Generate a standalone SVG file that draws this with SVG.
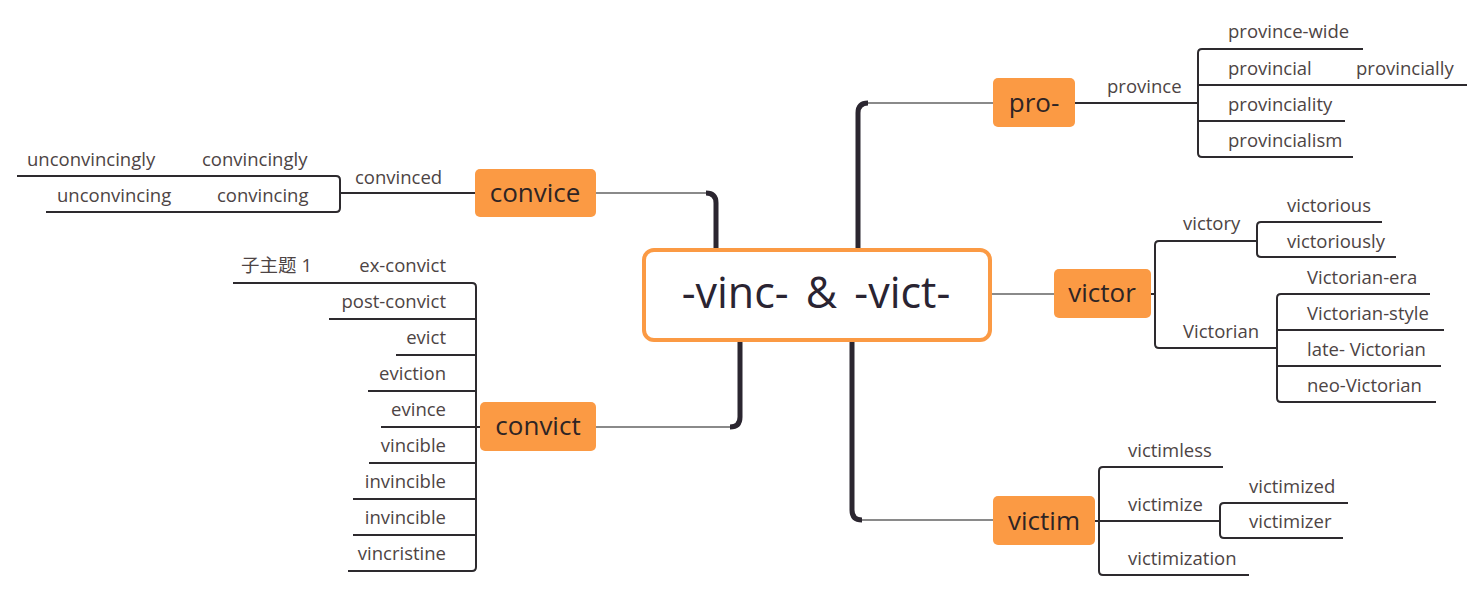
<svg xmlns="http://www.w3.org/2000/svg" width="1484" height="591" viewBox="0 0 1484 591">
<style>
.main rect{fill:#fb9a44}
.main text{font-family:"Open Sans","Noto Sans",sans-serif;font-size:26px;fill:#2e2424;text-anchor:middle}
.sub text{font-family:"Open Sans","Noto Sans","Noto Sans CJK SC",sans-serif;font-size:18.5px;fill:#4d4444}
.r text{text-anchor:end}
.thick{fill:none;stroke:#2b2630;stroke-width:5;stroke-linecap:butt}
.thin{fill:none;stroke:#8a8a8a;stroke-width:2}
.br{fill:none;stroke:#2d2a2e;stroke-width:2}
</style>
<rect width="1484" height="591" fill="#ffffff"/>
<g id="connectors">
<path class="thin" d="M866,103 H993"/>
<path class="thick" d="M858,248 V113 Q858,103 868,103"/>
<path class="thin" d="M708,193 H596"/>
<path class="thick" d="M716,248 V203 Q716,193 706,193"/>
<path class="thin" d="M732,427 H596"/>
<path class="thick" d="M740,342 V417 Q740,427 730,427"/>
<path class="thin" d="M860,520 H993"/>
<path class="thick" d="M852,342 V510 Q852,520 862,520"/>
<path class="thin" d="M992,294 H1054"/>
<path class="br" d="M475,193 H340"/>
<path class="br" d="M17,176 H336 Q340,176 340,180 V208 Q340,212 336,212 H46"/>
<path class="br" d="M233,283 H472 Q476,283 476,287 V567 Q476,571 472,571 H348"/>
<path class="br" d="M329,319 H476 M396,355 H476 M368,391 H476 M381,427 H480 M369,463 H476 M353,499 H476 M353,535 H476"/>
<path class="br" d="M1075,103 H1198"/>
<path class="br" d="M1363,49 H1202 Q1198,49 1198,53 V153 Q1198,157 1202,157 H1353"/>
<path class="br" d="M1198,85 H1467 M1198,121 H1345"/>
<path class="br" d="M1151,294 H1155"/>
<path class="br" d="M1257,241 H1159 Q1155,241 1155,245 V344 Q1155,348 1159,348 H1277"/>
<path class="br" d="M1382,222 H1261 Q1257,222 1257,226 V253 Q1257,257 1261,257 H1396"/>
<path class="br" d="M1430,294 H1281 Q1277,294 1277,298 V398 Q1277,402 1281,402 H1436 M1277,330 H1444 M1277,366 H1441"/>
<path class="br" d="M1095,521 H1220"/>
<path class="br" d="M1223,467 H1103 Q1099,467 1099,471 V571 Q1099,575 1103,575 H1249"/>
<path class="br" d="M1348,503 H1224 Q1220,503 1220,507 V534 Q1220,538 1224,538 H1343"/>
</g>
<g id="center">
<rect x="644" y="250" width="346" height="90" rx="10" fill="#ffffff" stroke="#fb9a44" stroke-width="4"/>
<text x="816" y="308" font-family="'Open Sans','Noto Sans',sans-serif" font-size="43" fill="#2a2432" text-anchor="middle" word-spacing="6" xml:space="preserve">-vinc- &amp; -vict-</text>
</g>
<g id="node-pro" class="main"><rect x="993" y="78" width="82" height="49" rx="5"/><text x="1034" y="112">pro-</text></g>
<g id="node-victor" class="main"><rect x="1054" y="269" width="97" height="49" rx="5"/><text x="1102" y="302">victor</text></g>
<g id="node-victim" class="main"><rect x="993" y="496" width="102" height="49" rx="5"/><text x="1044" y="530">victim</text></g>
<g id="node-convice" class="main"><rect x="475" y="169" width="121" height="48" rx="5"/><text x="535" y="202">convice</text></g>
<g id="node-convict" class="main"><rect x="480" y="402" width="116" height="49" rx="5"/><text x="538" y="435">convict</text></g>
<g id="convice-subs" class="sub">
<text x="355" y="184">convinced</text>
<text x="202" y="166">convincingly</text>
<text x="27" y="166">unconvincingly</text>
<text x="217" y="202">convincing</text>
<text x="57" y="202">unconvincing</text>
</g>
<g id="convict-subs" class="sub r">
<text x="446" y="272">ex-convict</text>
<text x="446" y="308">post-convict</text>
<text x="446" y="344">evict</text>
<text x="446" y="380">eviction</text>
<text x="446" y="416">evince</text>
<text x="446" y="452">vincible</text>
<text x="446" y="488">invincible</text>
<text x="446" y="524">invincible</text>
<text x="446" y="560">vincristine</text>
<text x="312" y="272">子主题 1</text>
</g>
<g id="pro-subs" class="sub">
<text x="1107" y="93">province</text>
<text x="1228" y="38">province-wide</text>
<text x="1228" y="75">provincial</text>
<text x="1356" y="75">provincially</text>
<text x="1228" y="111">provinciality</text>
<text x="1228" y="147">provincialism</text>
</g>
<g id="victor-subs" class="sub">
<text x="1183" y="230">victory</text>
<text x="1287" y="212">victorious</text>
<text x="1287" y="248">victoriously</text>
<text x="1183" y="338">Victorian</text>
<text x="1307" y="284">Victorian-era</text>
<text x="1307" y="320">Victorian-style</text>
<text x="1307" y="356">late- Victorian</text>
<text x="1307" y="392">neo-Victorian</text>
</g>
<g id="victim-subs" class="sub">
<text x="1128" y="457">victimless</text>
<text x="1128" y="511">victimize</text>
<text x="1128" y="565">victimization</text>
<text x="1249" y="493">victimized</text>
<text x="1249" y="528">victimizer</text>
</g>
</svg>
